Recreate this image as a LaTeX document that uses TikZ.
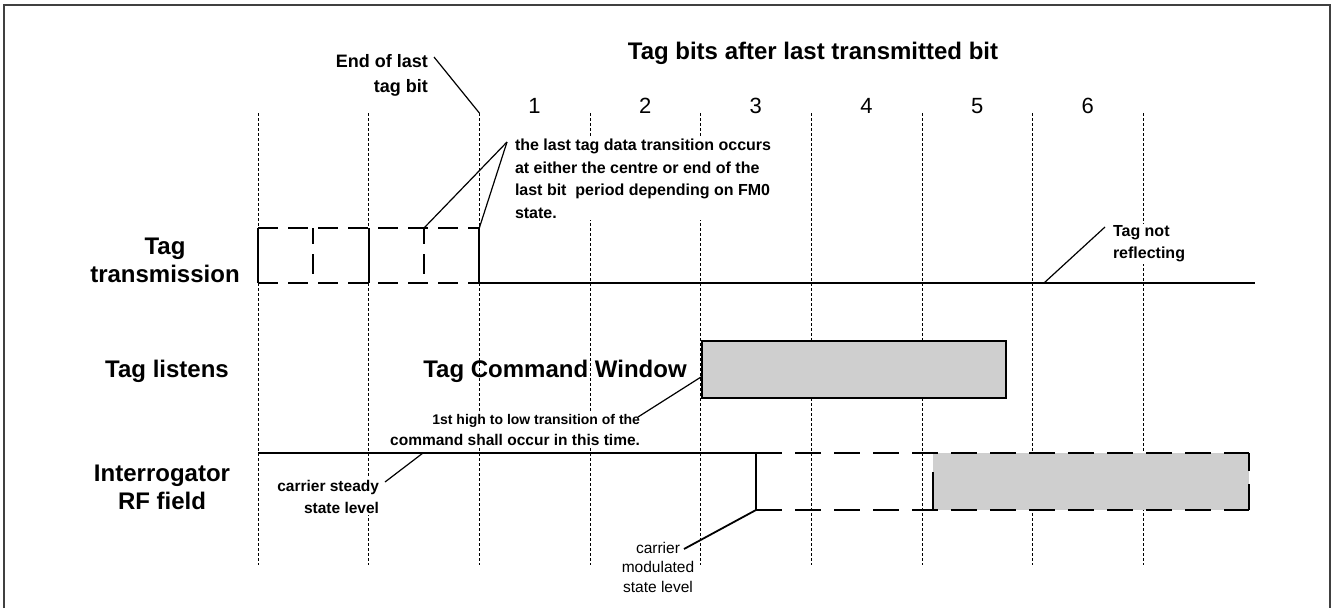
\documentclass[tikz,border=0pt]{standalone}
\usepackage{fontspec}
\setmainfont{Liberation Sans}
\begin{document}
\begin{tikzpicture}[x=1pt,y=-1pt,
  sig/.style={line width=2.3pt},
  gridline/.style={line width=0.9pt, dash pattern=on 3pt off 2pt},
  ann/.style={line width=1.2pt},
  dsh/.style={line width=2.3pt, dash pattern=on 20pt off 10pt},
  dshrf/.style={line width=2.3pt, dash pattern=on 26pt off 13pt},
  winbox/.style={draw, line width=2.3pt, fill=black!19},
  rowlabel/.style={font=\fontsize{24}{28}\selectfont\bfseries, align=center, inner sep=0pt, outer sep=0pt},
  note/.style={font=\fontsize{16}{22.4}\selectfont\bfseries, inner sep=1.5pt, outer sep=0pt, fill=white},
  smallnote/.style={font=\fontsize{15.5}{21}\selectfont\bfseries, inner sep=1.5pt, outer sep=0pt, fill=white},
  numlabel/.style={font=\fontsize{22}{26}\selectfont, inner sep=0pt}
]
\useasboundingbox (0,0) rectangle (1333,608);
% frame
\draw[line width=2pt, black!75] (4,608) -- (4,5) -- (1330,5) -- (1330,608);

% grid lines
\foreach \i in {0,...,8} {
  \coordinate (gt\i) at ({258+110.67*\i},113);
  \coordinate (gb\i) at ({258+110.67*\i},565);
  \draw[gridline] (gt\i) -- (gb\i);
}

% Tag transmission signal
\coordinate (th0) at (258,228);
\coordinate (tl0) at (258,283);
\coordinate (thm1) at (313,228);
\coordinate (tlm1) at (313,283);
\coordinate (th1) at (368.7,228);
\coordinate (tl1) at (368.7,283);
\coordinate (thm2) at (424,228);
\coordinate (tlm2) at (424,283);
\coordinate (th2) at (479.3,228);
\coordinate (tl2) at (479.3,283);
\coordinate (tlend) at (1255,283);
\draw[dsh] (th0) -- (th2);
\draw[dsh] (tl0) -- (tl2);
\draw[sig] (th0) -- (tl0);
\draw[sig] (th1) -- (tl1);
\draw[sig] (th2) -- (tl2);
\draw[dsh, dash phase=4pt] (thm1) -- (tlm1);
\draw[dsh, dash phase=4pt] (thm2) -- (tlm2);
\draw[sig] (tl2) -- (tlend);

% Tag command window
\node[winbox, minimum width=304.3pt, minimum height=57pt, anchor=north west, inner sep=0pt] (win) at (700.7,340) {};

% Interrogator RF field
\coordinate (rfa) at (258,453);
\coordinate (rfb) at (756,453);
\coordinate (rfc) at (756,510);
\coordinate (rfd) at (1249,453);
\coordinate (rfe) at (1249,510);
\fill[black!19] (933,453) rectangle (1249,510);
\draw[sig] (rfa) -- (rfb) -- (rfc);
\draw[dshrf] (rfb) -- (rfd);
\draw[dshrf] (rfc) -- (rfe);
\draw[dshrf, dash phase=8pt] (rfd) -- (rfe);
\coordinate (rfl1) at (933,472);
\coordinate (rfl2) at (933,510);
\draw[sig] (rfl1) -- (rfl2);

% labels
\node[rowlabel, anchor=north] (ltx) at (165,237.7) {Tag\\transmission};
\node[rowlabel, anchor=base] (llis) at (167,377) {Tag listens};
\node[rowlabel, anchor=north] (lrf) at (162,464.7) {Interrogator\\RF field};
\node[rowlabel, anchor=base] (lwin) at (555,377) {Tag Command Window};
\node[rowlabel, anchor=base] (title) at (813,59) {Tag bits after last transmitted bit};

\foreach \k in {1,...,6} {
  \node[numlabel, anchor=base] (n\k) at ({534.5+110.67*(\k-1)},113) {\k};
}

\node[font=\fontsize{18}{25}\selectfont\bfseries, align=right, inner sep=0pt, anchor=north east] (eol) at (428,54) {End of last\\tag bit};

\node[note, align=left, anchor=north west] (trans) at (513.5,137.9)
  {the last tag data transition occurs\\at either the centre or end of the\\last bit\ \ period depending on FM0\\state.};

\node[note, align=left, anchor=north west] (notrefl) at (1111.5,224) {Tag not\\reflecting};

\node[smallnote, align=right, anchor=north east] (first) at (641.5,412.5)
  {{\fontsize{14}{21}\selectfont 1st high to low transition of the}\\command shall occur in this time.};

\node[smallnote, align=right, anchor=north east, font=\fontsize{15.5}{22}\selectfont\bfseries] (steady) at (380.5,478.3) {carrier steady\\state level};

\node[font=\fontsize{15.5}{19.5}\selectfont, align=center, inner sep=0pt, anchor=north] (modul) at (658,541.8) {carrier\\modulated\\state level};

% annotation connectors
\coordinate (eolp) at (434,57);
\draw[ann] (eolp) -- (gt2);
\coordinate (transp) at (507,142);
\draw[ann] (transp) -- (thm2);
\draw[ann] (transp) -- (th2);
\coordinate (firstp) at (638,417);
\coordinate (winp) at (701,377);
\draw[ann] (firstp) -- (winp);
\coordinate (steadyp) at (385,482);
\coordinate (steadyq) at (423,453);
\draw[ann] (steadyp) -- (steadyq);
\coordinate (modulp) at (684,549);
\draw[line width=1.8pt] (modulp) -- (rfc);
\coordinate (notreflp) at (1105,227);
\coordinate (notreflq) at (1044,283);
\draw[ann] (notreflp) -- (notreflq);
\end{tikzpicture}
\end{document}
